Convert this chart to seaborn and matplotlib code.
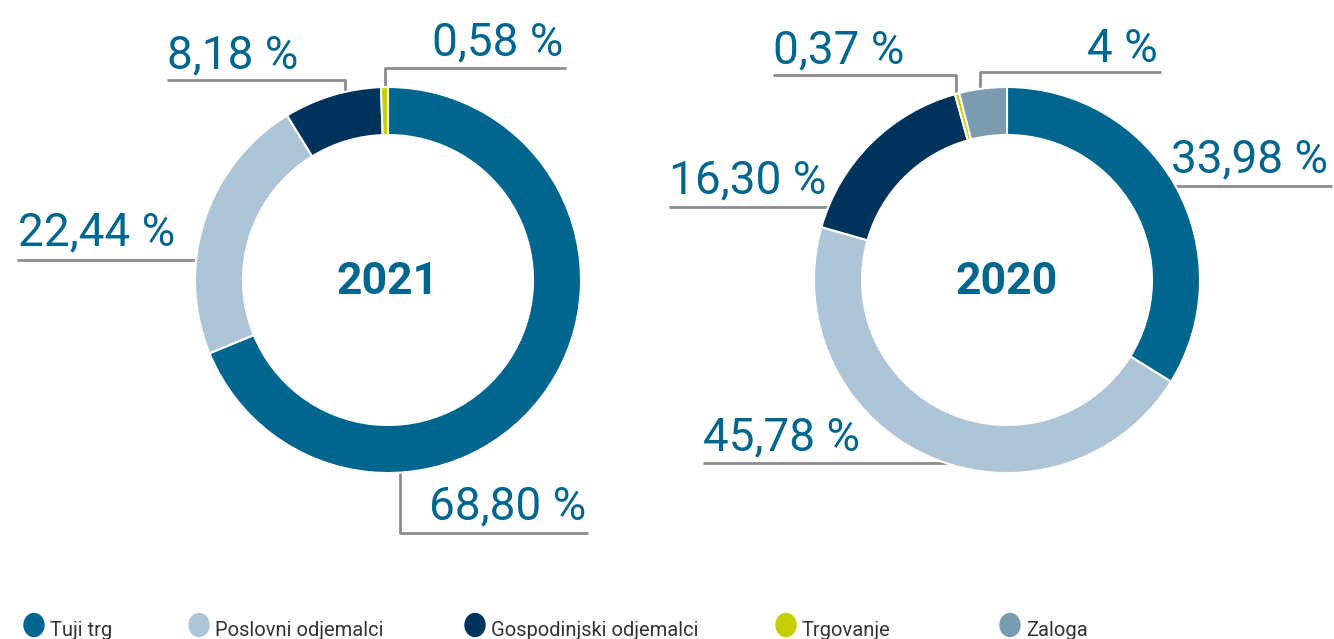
import numpy as np
import pandas as pd
import matplotlib
matplotlib.use('Agg')
import matplotlib.pyplot as plt
from matplotlib.patches import Ellipse
import seaborn as sns

# data
categories = ['Tuji trg', 'Poslovni odjemalci', 'Gospodinjski odjemalci', 'Trgovanje', 'Zaloga']
colors = ['#00668E', '#ADC5D7', '#00335B', '#C4CE00', '#7A9BB0']

cats_2021 = ['Tuji trg', 'Poslovni odjemalci', 'Gospodinjski odjemalci', 'Trgovanje']
share_2021 = [68.80, 22.44, 8.18, 0.58]
labels_2021 = ['68,80 %', '22,44 %', '8,18 %', '0,58 %']

cats_2020 = ['Tuji trg', 'Poslovni odjemalci', 'Gospodinjski odjemalci', 'Trgovanje', 'Zaloga']
share_2020 = [33.98, 45.78, 16.30, 0.37, 4]
labels_2020 = ['33,98 %', '45,78 %', '16,30 %', '0,37 %', '4 %']

years = ['2021', '2020']

# layout (pixel coords, y from top)
W, H = 1334, 639
centers = [(388, 280), (1007, 280)]
R_OUT, RING = 193, 48
TEXT_BLUE = '#00668E'
LINE_GREY = '#8C8C8C'

# leader lines + label anchors: (polyline, text x, text baseline y, ha)
layout_2021 = [
    ([(400, 440), (400, 533), (588, 533)], 586, 519, 'right'),
    ([(220, 260), (17, 260)], 18, 245, 'left'),
    ([(345, 110), (345, 80), (167, 80)], 167, 68, 'left'),
    ([(385, 110), (385, 68), (566, 68)], 563, 55, 'right'),
]
layout_2020 = [
    ([(1150, 186), (1332, 186)], 1328, 172, 'right'),
    ([(960, 463), (703, 463)], 703, 450, 'left'),
    ([(850, 207), (669, 207)], 669, 193, 'left'),
    ([(956, 110), (956, 75), (773, 75)], 773, 63, 'left'),
    ([(980, 110), (980, 72), (1161, 72)], 1158, 62, 'right'),
]
legend_x = [34, 199, 475, 786, 1010]
legend_y = 625

sns.set_theme(style='white')
plt.rcParams['font.family'] = ['Roboto', 'DejaVu Sans']

fig = plt.figure(figsize=(W / 100, H / 100), dpi=100)
ax = fig.add_axes([0, 0, 1, 1])
ax.axis('off')


def py(y):
    return H - y


palette = dict(zip(categories, sns.color_palette(colors)))

for (cx, cy), cats, vals, labs, lay, yr in zip(
        centers, [cats_2021, cats_2020], [share_2021, share_2020],
        [labels_2021, labels_2020], [layout_2021, layout_2020], years):
    for (pts, tx, ty, ha), lab in zip(lay, labs):
        xs = [p[0] for p in pts]
        ys = [py(p[1]) for p in pts]
        ax.plot(xs, ys, color=LINE_GREY, lw=2, zorder=1, solid_capstyle='butt')
        ax.text(tx, py(ty), lab, ha=ha, va='baseline', fontsize=33,
                color=TEXT_BLUE, zorder=3)
    wedges, _ = ax.pie(vals, colors=[palette[c] for c in cats], startangle=90,
                       counterclock=False, center=(cx, py(cy)), radius=R_OUT,
                       wedgeprops=dict(width=RING, edgecolor='white', linewidth=1.5))
    for w in wedges:
        w.set_zorder(2)
    ax.text(cx, py(cy) - 2, yr, ha='center', va='center', fontsize=32,
            fontweight='bold', color=TEXT_BLUE, zorder=3)

ax.set_xlim(0, W)
ax.set_ylim(0, H)
ax.set_aspect('equal')

for x, c in zip(legend_x, categories):
    ax.add_patch(Ellipse((x, py(legend_y)), 20, 23, color=palette[c], zorder=3))
    ax.text(x + 16, py(636), c, ha='left', va='baseline', fontsize=14.5,
            color='#333333')

fig.savefig('out.png', dpi=100)
